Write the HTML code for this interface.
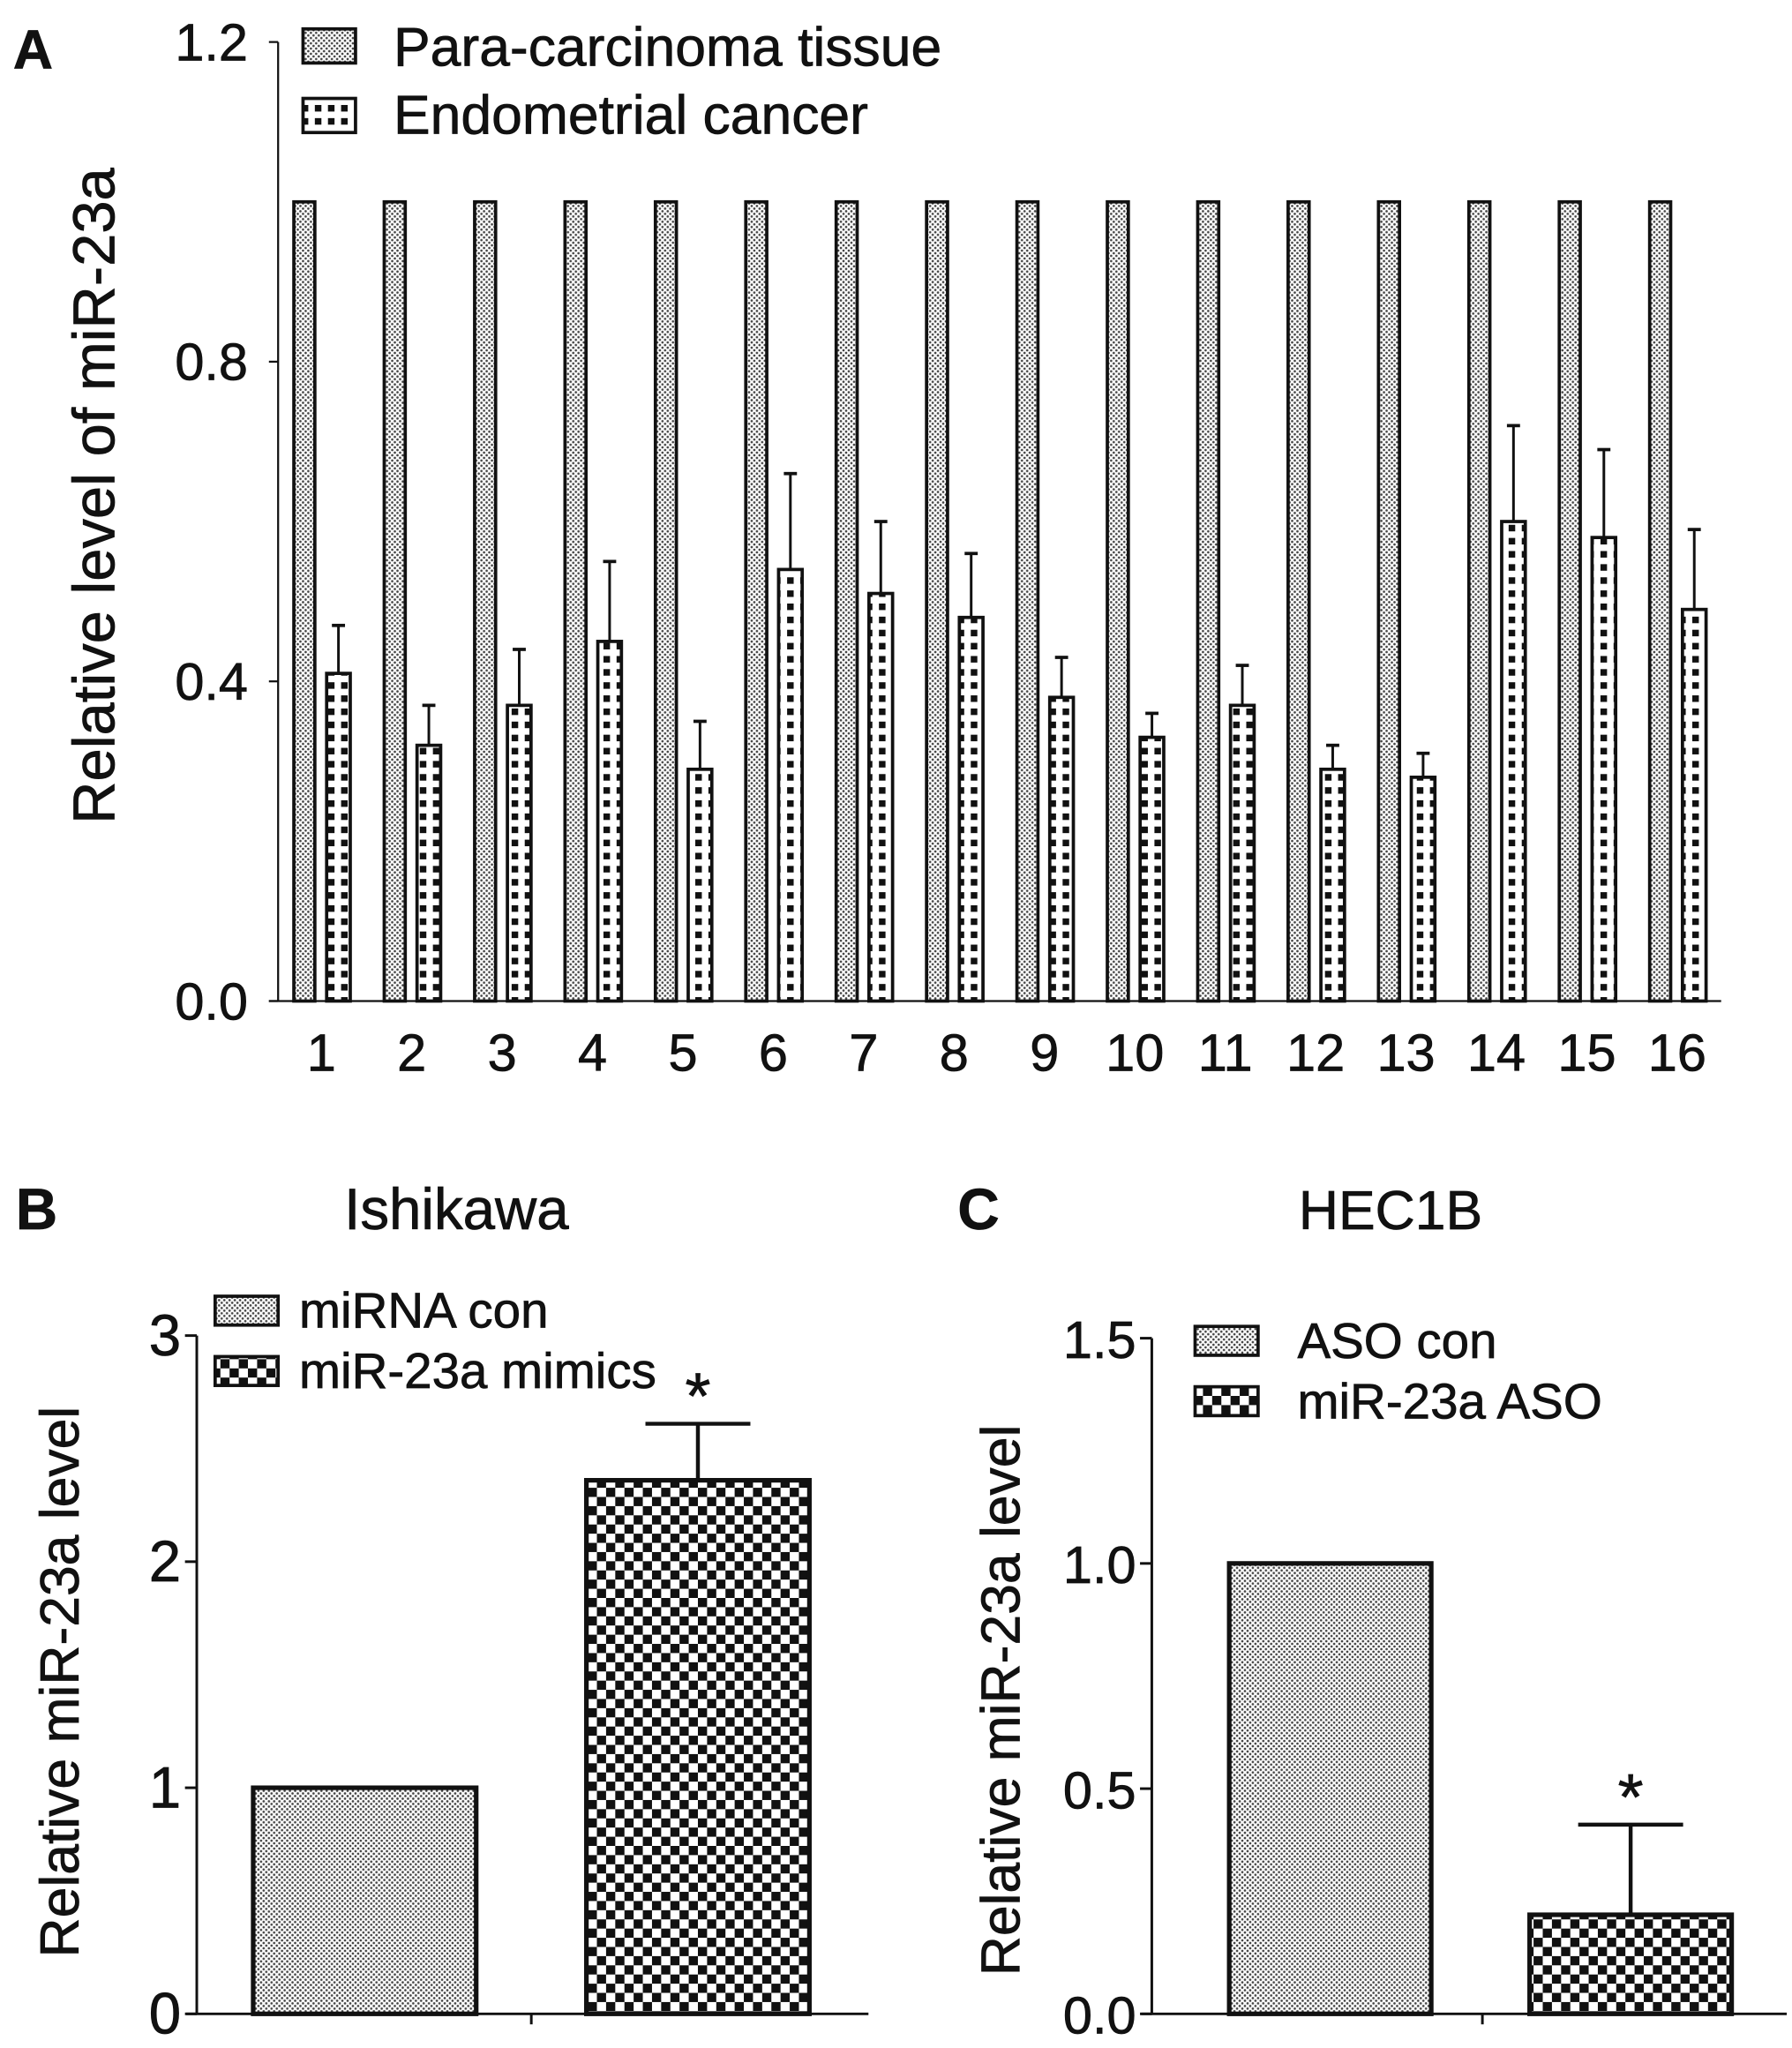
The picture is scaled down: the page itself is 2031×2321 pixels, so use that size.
<!DOCTYPE html>
<html><head><meta charset="utf-8"><style>
html,body{margin:0;padding:0;background:#fff}
svg{display:block}
text{font-family:"Liberation Sans",Arial,sans-serif;fill:#111;stroke:#111;stroke-width:0.5}
</style></head><body>
<svg id="fig" width="2031" height="2321" viewBox="0 0 1366 1561" xmlns="http://www.w3.org/2000/svg">
<defs>
<pattern id="dots" width="4" height="4" patternUnits="userSpaceOnUse"><rect width="4" height="4" fill="#fff"/><circle cx="1" cy="1" r="0.9" fill="#444"/><circle cx="3" cy="3" r="0.9" fill="#444"/></pattern>
<pattern id="chkA" width="10" height="10" patternUnits="userSpaceOnUse"><rect width="10" height="10" fill="#fff"/><rect x="0" y="0" width="5" height="5" fill="#111"/></pattern>
<pattern id="chkB" width="14" height="14" patternUnits="userSpaceOnUse"><rect width="14" height="14" fill="#fff"/><rect x="0" y="0" width="7" height="7" fill="#111"/><rect x="7" y="7" width="7" height="7" fill="#111"/></pattern>
</defs>
<g id="panelA"></g>
<g id="panelB"></g>
<g id="panelC"></g>
</svg>
<script>
const aCategories=["1","2","3","4","5","6","7","8","9","10","11","12","13","14","15","16"];
const aPara=[1,1,1,1,1,1,1,1,1,1,1,1,1,1,1,1];
const aEndo=[0.41,0.32,0.37,0.45,0.29,0.54,0.51,0.48,0.38,0.33,0.37,0.29,0.28,0.60,0.58,0.49];
const aEndoErr=[0.06,0.05,0.07,0.10,0.06,0.12,0.09,0.08,0.05,0.03,0.05,0.03,0.03,0.12,0.11,0.10];
const aTicks=[0,0.4,0.8,1.2];
const aTickLabels=["0.0","0.4","0.8","1.2"];
const bValues=[1.0,2.36];
const bErr=[0,0.25];
const bTicks=[0,1,2,3];
const bTickLabels=["0","1","2","3"];
const cValues=[1.0,0.22];
const cErr=[0,0.20];
const cTicks=[0,0.5,1.0,1.5];
const cTickLabels=["0.0","0.5","1.0","1.5"];
const NS="http://www.w3.org/2000/svg";
function mk(parent,tag,attrs,txt){const e=document.createElementNS(NS,tag);for(const k in attrs)e.setAttribute(k,attrs[k]);if(txt!==undefined)e.textContent=txt;parent.appendChild(e);return e;}

// Panel A
(function(){
const g=document.getElementById('panelA');
const y0=763,y1=32,max=1.2;
const y=v=>y0-(v/max)*(y0-y1);
const gx=i=>245+i*68.9;
let t=mk(g,'text',{x:10,y:52,'font-size':42,'font-weight':'bold'},'A');

let ax=mk(g,'line',{x1:212,y1:y(1.2),x2:212,y2:y0,stroke:'#111','stroke-width':1.5});

let xa=mk(g,'line',{x1:205,y1:y0,x2:1312,y2:y0,stroke:'#111','stroke-width':1.5});

aTicks.forEach((v,i)=>{
 mk(g,'line',{x1:205,y1:y(v),x2:212,y2:y(v),stroke:'#111','stroke-width':1.5});
 const l=mk(g,'text',{x:189,y:y(v)+14,'font-size':40,'text-anchor':'end'},aTickLabels[i]);
 
});
const yt=mk(g,'text',{x:0,y:0,'font-size':45,'text-anchor':'middle',transform:'translate(87,378) rotate(-90)'},'Relative level of miR-23a');

aCategories.forEach((c,i)=>{
 const cx=gx(i);
 const p=mk(g,'rect',{x:cx-21,y:y(aPara[i]),width:16,height:y0-y(aPara[i]),fill:'url(#dots)',stroke:'#111','stroke-width':2.5});
 
 const top=y(aEndo[i]+aEndoErr[i]);
 mk(g,'line',{x1:cx+13,y1:top,x2:cx+13,y2:y(aEndo[i]),stroke:'#111','stroke-width':2});
 mk(g,'line',{x1:cx+8,y1:top,x2:cx+18,y2:top,stroke:'#111','stroke-width':2.5});
 const e=mk(g,'rect',{x:cx+4,y:y(aEndo[i]),width:18,height:y0-y(aEndo[i]),fill:'url(#chkA)',stroke:'#111','stroke-width':2.5});
 
 const l=mk(g,'text',{x:cx,y:816,'font-size':40,'text-anchor':'middle'},c);
 
});
const le1=mk(g,'g',{});
mk(le1,'rect',{x:231,y:22,width:40,height:26,fill:'url(#dots)',stroke:'#111','stroke-width':2.5});
mk(le1,'text',{x:300,y:50,'font-size':42},'Para-carcinoma tissue');
const le2=mk(g,'g',{});
mk(le2,'rect',{x:231,y:75,width:40,height:26,fill:'url(#chkA)',stroke:'#111','stroke-width':2.5});
mk(le2,'text',{x:300,y:102,'font-size':42},'Endometrial cancer');
})();

function smallPanel(gid,o){
const g=document.getElementById(gid);
const y=v=>o.y0-(v/o.max)*(o.y0-o.yTop);
let t=mk(g,'text',{x:o.lx,y:937,'font-size':44,'font-weight':'bold'},o.letter);

let ti=mk(g,'text',{x:o.tx,y:937,'font-size':o.tfs,'text-anchor':'middle'},o.title);

let ax=mk(g,'line',{x1:o.ax,y1:o.yTop,x2:o.ax,y2:o.y0,stroke:'#111','stroke-width':2});

let xa=mk(g,'line',{x1:o.ax-8,y1:o.y0,x2:o.xEnd,y2:o.y0,stroke:'#111','stroke-width':2});

mk(g,'line',{x1:o.xTick,y1:o.y0,x2:o.xTick,y2:o.y0+8,stroke:'#111','stroke-width':2});
o.ticks.forEach((v,i)=>{
 mk(g,'line',{x1:o.ax-9,y1:y(v),x2:o.ax,y2:y(v),stroke:'#111','stroke-width':2});
 const l=mk(g,'text',{x:o.ax-12,y:y(v)+15,'font-size':o.tkfs,'text-anchor':'end'},o.labels[i]);
 
});
const yt=mk(g,'text',{x:0,y:0,'font-size':42,'text-anchor':'middle',transform:'translate('+o.ytx+','+o.yty+') rotate(-90)'},'Relative miR-23a level');

o.values.forEach((v,i)=>{
 const bx=o.bx[i],bw=o.bw;
 if(o.err[i]>0){
  const top=y(v+o.err[i]),cx=bx+bw/2;
  mk(g,'line',{x1:cx,y1:top,x2:cx,y2:y(v),stroke:'#111','stroke-width':3});
  mk(g,'line',{x1:cx-40,y1:top,x2:cx+40,y2:top,stroke:'#111','stroke-width':3});
  const s=mk(g,'text',{x:cx,y:top-4,'font-size':50,'text-anchor':'middle'},'*');
  
 }
 const r=mk(g,'rect',{x:bx,y:y(v),width:bw,height:o.y0-y(v),fill:i?'url(#chkB)':'url(#dots)',stroke:'#111','stroke-width':3.5});
 
});
o.legend.forEach((txt,i)=>{
 const le=mk(g,'g',{});
 
 mk(le,'rect',{x:o.legX,y:o.legY+i*46,width:48,height:22,fill:i?'url(#chkB)':'url(#dots)',stroke:'#111','stroke-width':2.5});
 mk(le,'text',{x:o.legX+o.legT,y:o.legY+i*46+24,'font-size':o.lfs},txt);
});
}
smallPanel('panelB',{letter:'B',lx:12,title:'Ishikawa',tx:348,tfs:44,tkfs:44,lfs:38,ax:150,yTop:1018,y0:1535,max:3,xEnd:662,xTick:405,ticks:bTicks,labels:bTickLabels,ytx:60,yty:1282,values:bValues,err:bErr,bx:[193,447],bw:170,legend:['miRNA con','miR-23a mimics'],legX:164,legY:988,legT:64});
smallPanel('panelC',{letter:'C',lx:730,title:'HEC1B',tx:1060,tfs:42,tkfs:40,lfs:38,ax:878,yTop:1020,y0:1535,max:1.5,xEnd:1362,xTick:1130,ticks:cTicks,labels:cTickLabels,ytx:777,yty:1296,values:cValues,err:cErr,bx:[937,1166],bw:154,legend:['ASO con','miR-23a ASO'],legX:911,legY:1011,legT:78});
</script>
</body></html>
